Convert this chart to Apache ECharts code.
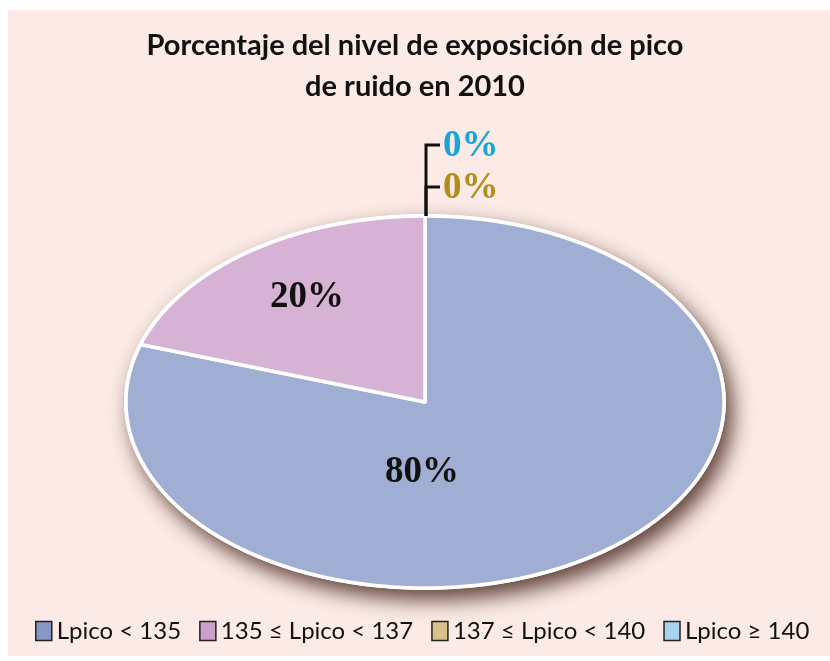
<!DOCTYPE html>
<html>
  <head>
    <meta charset="utf-8" />
    <title>ECharts</title>
    <script src="https://cdn.jsdelivr.net/npm/echarts@6/dist/echarts.min.js"></script>
    <style>
      body { margin: 0; background: #fff; }
    </style>
  </head>

  <body>
    <div id="main" style="width: 830px; height: 661px"></div>
    <script type="text/javascript">
      var myChart = echarts.init(document.getElementById("main"));

      // data
      const categories = ["Lpico < 135", "135 ≤ Lpico < 137", "137 ≤ Lpico < 140", "Lpico ≥ 140"];
      const values = [80, 20, 0, 0];

      // styles
      const sliceColors = ["#a1aed3", "#d6b3d5", "#d9c18b", "#a9d3ea"];
      const legendColors = ["#8797c6", "#c9a1c9", "#d9c18b", "#a9d3ea"];
      const labelColors = ["#111", "#111", "#b38c1a", "#1ba4d7"];
      const labelAnchor = [[-0.01, 0.38], [-0.395, -0.56], null, null];

      const total = values.reduce((a, b) => a + b, 0);
      const cx = 425, cy = 402, rx = 299, ry = 186;

      function pt(theta) {
        return [cx + rx * Math.sin(theta), cy - ry * Math.cos(theta)];
      }

      function renderSlice(params, api) {
        const i = params.seriesIndex;
        const v = api.value(0);
        let before = 0;
        for (let k = 0; k < i; k++) before += values[k];
        const start = (before / total) * Math.PI * 2;
        const end = start + (v / total) * Math.PI * 2;
        const children = [];
        if (i === 0) {
          children.push({
            type: "ellipse",
            shape: { cx: cx, cy: cy, rx: rx + 2, ry: ry + 2 },
            style: {
              fill: "#fff",
              shadowBlur: 20,
              shadowOffsetX: 7,
              shadowOffsetY: 10,
              shadowColor: "rgba(70,40,30,0.85)",
            },
          });
        }
        if (v > 0) {
          const points = [[cx, cy]];
          const steps = Math.max(2, Math.ceil((end - start) / 0.01));
          for (let s = 0; s <= steps; s++) {
            points.push(pt(start + ((end - start) * s) / steps));
          }
          children.push({
            type: "polygon",
            shape: { points: points },
            style: { fill: sliceColors[i], stroke: "#fff", lineWidth: 3.5, lineJoin: "round" },
          });
          const a = labelAnchor[i];
          children.push({
            type: "text",
            x: cx + a[0] * rx,
            y: cy + a[1] * ry,
            style: {
              text: Math.round((v / total) * 100) + "%",
              fill: labelColors[i],
              font: "bold 37px 'Liberation Serif', 'DejaVu Serif', serif",
              align: "center",
              verticalAlign: "middle",
            },
          });
        } else {
          // zero slices: leader lines stacked above the top of the pie
          let zeroRank = 0;
          for (let k = 0; k < i; k++) if (values[k] === 0) zeroRank++;
          const top = pt(start);
          const ly = top[1] - 29 - zeroRank * 42;
          children.push({
            type: "polyline",
            shape: { points: [[top[0] + 1, top[1]], [top[0] + 1, ly], [top[0] + 15, ly]] },
            style: { stroke: "#111", lineWidth: 3, fill: null },
          });
          children.push({
            type: "text",
            x: top[0] + 18,
            y: ly + 1,
            style: {
              text: Math.round((v / total) * 100) + "%",
              fill: labelColors[i],
              font: "bold 37px 'Liberation Serif', 'DejaVu Serif', serif",
              align: "left",
              verticalAlign: "middle",
            },
          });
        }
        return { type: "group", children: children };
      }

      option = {
        backgroundColor: "#fff",
        graphic: [
          {
            type: "rect",
            shape: { x: 8, y: 10, width: 822, height: 646 },
            style: { fill: "#fbeae5" },
            z: -10,
          },
        ],
        title: {
          text: "Porcentaje del nivel de exposición de pico\nde ruido en 2010",
          left: "center",
          top: 20,
          textStyle: {
            fontFamily: "Lato",
            fontWeight: "bold",
            fontSize: 29,
            lineHeight: 41,
            color: "#111",
          },
        },
        legend: {
          bottom: 13,
          left: 30,
          icon: "rect",
          itemWidth: 16,
          itemHeight: 19,
          itemGap: 18,
          itemStyle: { borderColor: "#222", borderWidth: 1.5 },
          textStyle: { fontFamily: "Lato", fontSize: 24, color: "#111" },
          data: categories.map((c, i) => ({ name: c, itemStyle: { color: legendColors[i] } })),
        },
        series: categories.map((c, i) => ({
          type: "custom",
          name: c,
          coordinateSystem: "none",
          itemStyle: { color: sliceColors[i] },
          renderItem: renderSlice,
          data: [values[i]],
        })),
      };

      myChart.setOption(option);
    </script>
  </body>
</html>
